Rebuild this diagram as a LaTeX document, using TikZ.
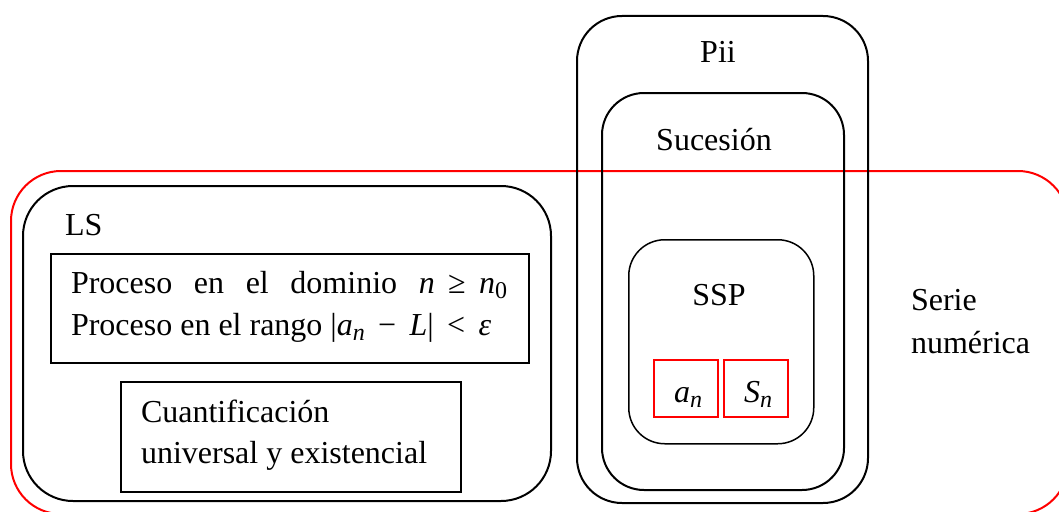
\documentclass[tikz,border=0pt]{standalone}
\usepackage{fontspec}
\setmainfont{Liberation Serif}
\newfontfamily\tnr{Liberation Serif}
\newcommand{\mi}[1]{\textit{#1}}
\newcommand{\sub}[1]{\raisebox{-0.35ex}{\fontsize{24}{24}\selectfont #1}}
\begin{document}
\begin{tikzpicture}[x=1pt,y=-1pt,
  txt/.style={font=\tnr\fontsize{32}{41}\selectfont, inner sep=0pt, outer sep=0pt},
  frame/.style={draw, line width=2pt, inner sep=0pt, anchor=north west},
  thinbox/.style={draw, line width=1.5pt, inner sep=0pt, anchor=north west},
  redbox/.style={draw=red, line width=1.5pt, inner sep=0pt, anchor=north west}
]
\clip (0,0) rectangle (1059,511);
\fill[white] (0,0) rectangle (1059,511);
% Serie numerica (red)
\node[frame, draw=red, rounded corners=50pt, minimum width=1057pt, minimum height=343pt] (sn) at (10,170) {};
% LS
\node[frame, rounded corners=50pt, minimum width=528pt, minimum height=315pt] (ls) at (22,185) {};
\node[txt, anchor=base west] (lslab) at (65,235) {LS};
\node[thinbox, minimum width=478pt, minimum height=109pt] (proc) at (50,253) {};
\node[txt, anchor=base west] (proc1) at (71,293) {\hbox to 436pt{Proceso\hfill en\hfill el\hfill dominio\hfill \mi{n}\, ≥\, \mi{n}\sub{0}}};
\node[txt, anchor=base west] (proc2) at (71,335) {Proceso en el rango |\mi{a}\sub{\mi{n}}\, −\, \mi{L}|\, <\, \mi{ε}};
\node[thinbox, minimum width=340pt, minimum height=110pt] (cuant) at (120,381) {};
\node[txt, anchor=base west] (cuant1) at (141,422) {Cuantificación};
\node[txt, anchor=base west] (cuant2) at (141,463) {universal y existencial};
% Pii
\node[frame, rounded corners=45pt, minimum width=291pt, minimum height=487pt] (pii) at (576,15) {};
\node[txt, anchor=base] (piilab) at (718,63) {Pii};
\node[frame, rounded corners=42pt, minimum width=242pt, minimum height=397pt] (suc) at (601,92) {};
\node[txt, anchor=base] (suclab) at (714,150) {Sucesión};
\node[thinbox, rounded corners=36pt, minimum width=185pt, minimum height=204pt] (ssp) at (628,239) {};
\node[txt, anchor=base] (ssplab) at (719,305) {SSP};
\node[redbox, minimum width=64pt, minimum height=57pt] (an) at (653,359) {};
\node[redbox, minimum width=64pt, minimum height=57pt] (sn2) at (723,359) {};
\node[txt, anchor=base] (anlab) at (688,402) {\mi{a}\sub{\mi{n}}};
\node[txt, anchor=base] (snlab) at (758,402) {\mi{S}\sub{\mi{n}}};
% Serie numerica label
\node[txt, anchor=base west] (serie1) at (911,310) {Serie};
\node[txt, anchor=base west] (serie2) at (911,353) {numérica};
\end{tikzpicture}
\end{document}
